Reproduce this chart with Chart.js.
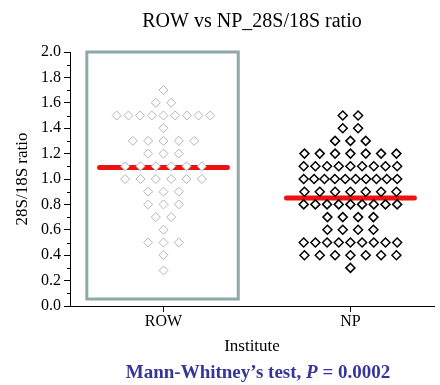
<!DOCTYPE html>
<html>
<head>
<meta charset="utf-8">
<script src="https://cdn.jsdelivr.net/npm/chart.js@4"></script>
<style>
  body { margin: 0; background: #fff; }
  #marco { position: relative; width: 440px; height: 385px; }
  #pie {
    position: absolute; left: 76px; width: 364px; top: 360px;
    text-align: center; font: bold 19px "Liberation Serif", "Times New Roman", serif;
    color: #36369a; line-height: 23px;
  }
</style>
</head>
<body>
<div id="marco">
  <canvas id="grafico" width="440" height="385"></canvas>
  <div id="pie">Mann-Whitney’s test, <i>P</i> = 0.0002</div>
</div>
<script>
// datos
const categorias = ["ROW", "NP"];
const posiciones = [1, 2];
const valoresROW = [1.7, 1.6, 1.6, 1.5, 1.5, 1.5, 1.5, 1.5, 1.5, 1.5, 1.5, 1.5, 1.4,
  1.3, 1.3, 1.3, 1.3, 1.3, 1.2, 1.2, 1.2, 1.1, 1.1, 1.1, 1.1, 1.1, 1.1,
  1.0, 1.0, 1.0, 1.0, 1.0, 1.0, 0.9, 0.9, 0.9, 0.8, 0.8, 0.8, 0.7, 0.7, 0.6,
  0.5, 0.5, 0.5, 0.4, 0.28];
const valoresNP = [1.5, 1.5, 1.4, 1.4, 1.3, 1.3, 1.3,
  1.2, 1.2, 1.2, 1.2, 1.2, 1.2, 1.2,
  1.1, 1.1, 1.1, 1.1, 1.1, 1.1, 1.1, 1.1, 1.1,
  1.0, 1.0, 1.0, 1.0, 1.0, 1.0, 1.0, 1.0, 1.0, 1.0,
  0.9, 0.9, 0.9, 0.9, 0.9, 0.9, 0.9,
  0.8, 0.8, 0.8, 0.8, 0.8, 0.8, 0.8, 0.8, 0.8,
  0.7, 0.7, 0.7, 0.7, 0.6, 0.6, 0.6, 0.6,
  0.5, 0.5, 0.5, 0.5, 0.5, 0.5, 0.5, 0.5, 0.5,
  0.4, 0.4, 0.4, 0.4, 0.4, 0.4, 0.4, 0.3];
const medias = [1.09, 0.85];
const ticksY = [0, 0.2, 0.4, 0.6, 0.8, 1.0, 1.2, 1.4, 1.6, 1.8, 2.0];

const FUENTE = "'Liberation Serif', 'Times New Roman', serif";
const PASO = 0.082;       // separacion entre columnas de puntos
const MEDIO_ANCHO = 0.25; // ancho maximo de una fila
const MEDIO_LINEA = 0.342;

//reparte los puntos de igual valor a lo ancho
function repartir(valores, centro){
  const cuenta = {};
  valores.forEach(v => cuenta[v] = (cuenta[v] || 0) + 1);
  const vistos = {};
  return valores.map(v => {
    const n = cuenta[v];
    const i = vistos[v] = (vistos[v] ?? -1) + 1;
    const paso = n > 1 ? Math.min(PASO, 2 * MEDIO_ANCHO / (n - 1)) : 0;
    return { x: centro + (i - (n - 1) / 2) * paso, y: v };
  });
}

function lineaMedia(centro, m){
  return [{ x: centro - MEDIO_LINEA, y: m }, { x: centro + MEDIO_LINEA, y: m }];
}

// caja gris alrededor del grupo ROW
const cajaROW = {
  id: "cajaROW",
  beforeDatasetsDraw(chart){
    const { ctx, scales: { x, y } } = chart;
    const x0 = x.getPixelForValue(posiciones[0] - 0.41);
    const x1 = x.getPixelForValue(posiciones[0] + 0.40);
    const y0 = y.getPixelForValue(2.0);
    const y1 = y.getPixelForValue(0.055);
    ctx.save();
    ctx.strokeStyle = "#8fa8a8";
    ctx.lineWidth = 3;
    ctx.strokeRect(x0, y0, x1 - x0, y1 - y0);
    ctx.restore();
  }
};

// marcas menores del eje y
const marcasMenores = {
  id: "marcasMenores",
  afterDraw(chart){
    const { ctx, scales: { y } } = chart;
    ctx.save();
    ctx.strokeStyle = "#000";
    ctx.lineWidth = 1;
    for (let i = 0; i < ticksY.length - 1; i++) {
      const py = Math.round(y.getPixelForValue((ticksY[i] + ticksY[i + 1]) / 2)) + 0.5;
      ctx.beginPath();
      ctx.moveTo(y.right - 3, py);
      ctx.lineTo(y.right, py);
      ctx.stroke();
    }
    ctx.restore();
  }
};

const grafica = document.getElementById("grafico").getContext("2d");

new Chart(grafica, {
  type: "scatter",
  data: {
    datasets: [
      {
        label: "ROW",
        data: repartir(valoresROW, posiciones[0]),
        pointStyle: "rectRot",
        pointRadius: 4.5,
        pointBorderWidth: 1,
        borderColor: "#b4b4b4",
        backgroundColor: "#fff",
        order: 0
      },
      {
        label: "NP",
        data: repartir(valoresNP, posiciones[1]),
        pointStyle: "rectRot",
        pointRadius: 4.5,
        pointBorderWidth: 1.5,
        borderColor: "#000",
        backgroundColor: "#fff",
        order: 0
      },
      {
        type: "line",
        data: lineaMedia(posiciones[0], medias[0]),
        borderColor: "#ee1111",
        borderWidth: 5,
        borderCapStyle: "round",
        pointRadius: 0,
        order: 1
      },
      {
        type: "line",
        data: lineaMedia(posiciones[1], medias[1]),
        borderColor: "#ee1111",
        borderWidth: 5,
        borderCapStyle: "round",
        pointRadius: 0,
        order: 1
      }
    ]
  },
  options: {
    responsive: false,
    animation: false,
    layout: { padding: { left: 0, right: 0, top: 0, bottom: 27 } },
    plugins: {
      legend: { display: false },
      tooltip: { enabled: false },
      title: {
        display: true,
        text: "ROW vs NP_28S/18S ratio",
        fullSize: false,
        color: "#000",
        font: { family: FUENTE, size: 20, weight: "normal" },
        padding: { top: 10, bottom: 18 }
      }
    },
    scales: {
      x: {
        type: "linear",
        min: 0.5,
        max: 2.447,
        afterBuildTicks: (scale) => { scale.ticks = posiciones.map(v => ({ value: v })); },
        afterFit: (scale) => { scale.height = 52; },
        ticks: {
          color: "#000",
          padding: 0,
          font: { family: FUENTE, size: 16 },
          callback: (v, i) => categorias[i]
        },
        grid: { drawOnChartArea: false, tickLength: 6, color: "#000" },
        border: { color: "#000", width: 1 },
        title: {
          display: true,
          text: "Institute",
          color: "#000",
          font: { family: FUENTE, size: 17 },
          padding: { top: 0, bottom: 1 }
        }
      },
      y: {
        min: 0,
        max: 2,
        afterBuildTicks: (scale) => { scale.ticks = ticksY.map(v => ({ value: v })); },
        afterFit: (scale) => { scale.width = 70; },
        ticks: {
          color: "#000",
          padding: 3,
          font: { family: FUENTE, size: 16 },
          callback: (v) => v.toFixed(1)
        },
        grid: { drawOnChartArea: false, tickLength: 6, color: "#000" },
        border: { color: "#000", width: 1 },
        title: {
          display: true,
          text: "28S/18S ratio",
          color: "#000",
          font: { family: FUENTE, size: 17 },
          padding: { top: 12, bottom: 0 }
        }
      }
    }
  },
  plugins: [cajaROW, marcasMenores]
});
</script>
</body>
</html>
